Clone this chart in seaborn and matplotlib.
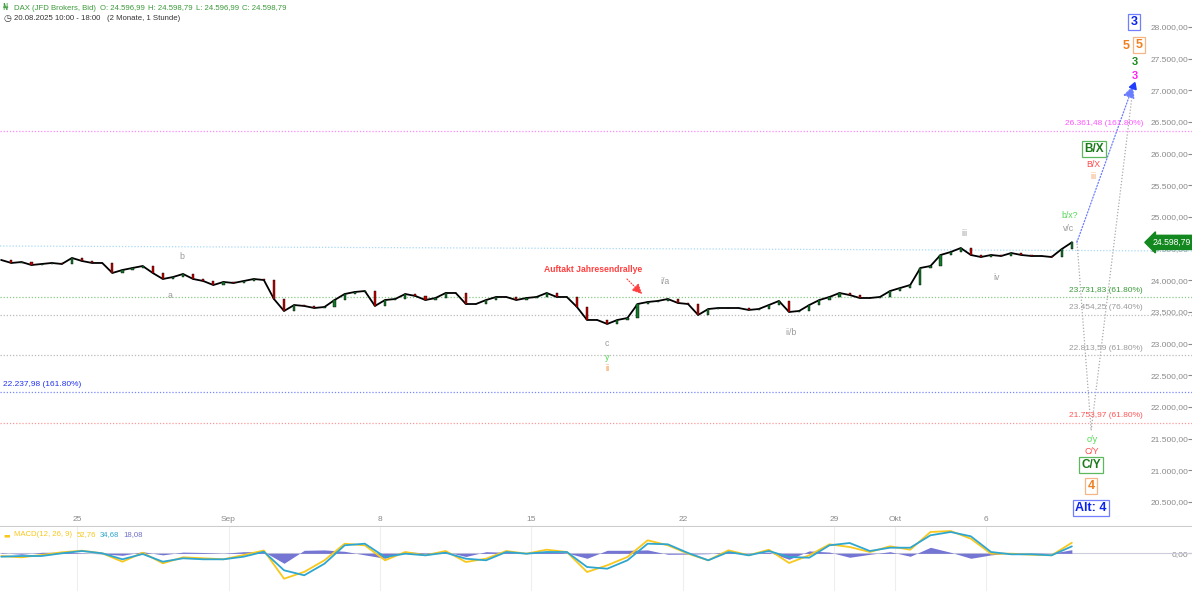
import numpy as np
import pandas as pd
import matplotlib
matplotlib.use("Agg")
import matplotlib.pyplot as plt
import seaborn as sns

# ---------------- data ----------------
close = [24321, 24274, 24289, 24242, 24258, 24274, 24258, 24353, 24305, 24274,
         24274, 24116, 24163, 24195, 24226, 24116, 24021, 24052, 24100, 24021,
         23989, 23926, 23974, 23958, 23989, 24021, 24005, 23705, 23516, 23610,
         23595, 23563, 23579, 23689, 23784, 23816, 23831, 23595, 23689, 23705,
         23784, 23753, 23689, 23721, 23800, 23800, 23626, 23626, 23689, 23737,
         23737, 23689, 23721, 23737, 23800, 23737, 23737, 23579, 23374, 23374,
         23311, 23374, 23405, 23626, 23658, 23674, 23705, 23642, 23626, 23453,
         23547, 23563, 23563, 23563, 23532, 23547, 23610, 23674, 23500, 23516,
         23610, 23689, 23737, 23800, 23768, 23721, 23721, 23737, 23831, 23879,
         23926, 24195, 24226, 24400, 24447, 24510, 24400, 24368, 24400, 24384,
         24431, 24400, 24384, 24384, 24368, 24494, 24598.79]

macd_line = [-13.5, -20, -8.5, 5, 13, 0, -42, 3, -50, -20, -25, -30, -8.5, 14,
             -127, -93, -35, 48, 40, -35, 6.5, -10, 11.5, -43.5, -27, 11.5, -2, 18,
             6.5, -93.5, -60, -18.5, 65, 40, -2, -35, 15, -10, 18, -48.5, -10, 45,
             31.5, 6.5, 35, 18, 106.5, 111.5, 73, -2, -2, -7, -10, 52.76]
signal_line = [-17, -13.5, -13.5, 0, 11.5, 0, -30, -3.5, -42, -25, -30, -30, -17, 8,
               -85, -110, -52, 40, 48, -18.5, -2, -10, 3, -27, -35, 6.5, -2, 6.5,
               6.5, -68.5, -77, -35, 48, 45, 1.5, -35, 6.5, -10, 11.5, -18.5, -22, 40,
               51.5, 11.5, 28, 28, 90, 106.5, 85, 6.5, -5, -5, -10, 34.68]
macd_hist = [3, -5, 5, 5, 2, -3, -10, 8, -8, 6, 4, 0, 8, 8,
             -50, 15, 17, 10, -8, -25, 8, 2, 8, -16, 8, 5, 0, 10,
             2, -25, 15, 15, 17, -5, -4, -2, 8, -2, 6, -30, 12, 6,
             -20, -5, 8, -15, 30, 5, -25, -8, 3, -2, 0, 18.08]

date_ticks = [0, 5, 10, 15, 20, 25, 27, 30]
date_labels = ["25", "Sep", "8", "15", "22", "29", "Okt", "6"]
price_ticks = list(range(20500, 28001, 500))

fib_levels = [26361.48, 23731.83, 23454.25, 22813.59, 22237.98, 21753.97]
fib_pcts = ["161.80%", "61.80%", "76.40%", "61.80%", "161.80%", "61.80%"]
fib_colors = ["#ff55ff", "#3a9a3a", "#9a9a9a", "#9a9a9a", "#2233ee", "#ff5555"]
fib_line_colors = ["#ff88ff", "#88cc88", "#bbbbbb", "#bbbbbb", "#7788ff", "#ff9999"]

trend_dates = [-2.54, 36.8]
trend_prices = [24542, 24463]
proj_blue_dates = [33.0, 34.85]
proj_blue_prices = [24600, 27070]
proj_gray_dates = [33.0, 33.47, 34.85]
proj_gray_prices = [24630, 21630, 27030]
last_price = 24598.79

# ---------------- style ----------------
sns.set_theme(style="white")
plt.rcParams["font.family"] = ["Liberation Sans", "DejaVu Sans"]


def de_fmt(v):
    s = f"{v:,.2f}"
    return s.replace(",", "X").replace(".", ",").replace("X", ".")


fig = plt.figure(figsize=(11.92, 5.91), dpi=100)
ax = fig.add_axes([0, 65 / 591, 1, 526 / 591])
mx = fig.add_axes([0, 0, 1, 64 / 591])

t_price = -2.5 + np.arange(len(close)) / 3.0
t_macd = -2.5 + np.arange(len(macd_line)) * 2.0 / 3.0
df = pd.DataFrame({"t": t_price, "close": close})
df["open"] = [close[0]] + close[:-1]
df["body"] = df["close"] - df["open"]
df["col"] = np.where(df["body"] >= 0, "#127a2a", "#c80000")

XL = (-77 / 30.3, (1192 - 77) / 30.3)

# ---------------- main price panel ----------------
for lvl, lc in zip(fib_levels, fib_line_colors):
    ax.axhline(lvl, color=lc, lw=0.9, ls=(0, (1, 1.5)), zorder=1)
sns.lineplot(x=trend_dates, y=trend_prices, ax=ax, color="#a9d9f5", lw=0.9,
             ls=(0, (1, 1.5)), zorder=1)

sns.lineplot(data=df, x="t", y="close", ax=ax, color="black", lw=1.3, zorder=3)
ax.bar(df["t"], df["body"].where(df["body"].abs() > 5, 5), bottom=df["open"],
       width=0.07, color=df["col"], edgecolor="black", linewidth=0.3, zorder=4)

sns.lineplot(x=proj_gray_dates, y=proj_gray_prices, ax=ax, color="#aaaaaa", lw=0.9,
             ls=(0, (1, 1.5)), zorder=2)
ax.annotate("", xy=(proj_blue_dates[1], proj_blue_prices[1]),
            xytext=(proj_blue_dates[0], proj_blue_prices[0]),
            arrowprops=dict(arrowstyle="-|>,head_length=0.6,head_width=0.3",
                            color="#6b7dff", lw=0.9, ls=(0, (1, 1.5)),
                            shrinkA=0, shrinkB=0), zorder=2)
ax.plot([proj_blue_dates[1]], [proj_blue_prices[1]], marker=(3, 0, -20),
        ms=6, color="#1f3cff", zorder=3)

ax.set_xlim(*XL)
ax.set_ylim(28426.3 - 15.79 * 526, 28426.3)
for s in ax.spines.values():
    s.set_visible(False)
ax.spines["bottom"].set_visible(True)
ax.spines["bottom"].set_color("#cccccc")
ax.spines["bottom"].set_linewidth(0.8)

ax.yaxis.tick_right()
ax.set_yticks(price_ticks)
ax.set_yticklabels([de_fmt(v) for v in price_ticks])
ax.tick_params(axis="y", direction="in", length=3, width=0.8, pad=-2.5,
               labelsize=6, colors="#8a8a8a", labelcolor="#8a8a8a")
for lab in ax.get_yticklabels():
    lab.set_horizontalalignment("right")
ax.set_xticks(date_ticks)
ax.set_xticklabels(date_labels)
ax.tick_params(axis="x", direction="in", length=0, pad=-7, labelsize=6,
               labelcolor="#8a8a8a")
ax.set_xlabel("")
ax.set_ylabel("")
ax.grid(False)

# fib labels
for lvl, pct, c in zip(fib_levels, fib_pcts, fib_colors):
    txt = f"{de_fmt(lvl)} ({pct})"
    if abs(lvl - 22237.98) < 1:
        ax.annotate(txt, xy=(XL[0] + 0.1, lvl), xytext=(0, 2.5),
                    textcoords="offset points", ha="left", va="bottom",
                    fontsize=6, color=c)
    else:
        ax.annotate(txt, xy=(35.18, lvl), xytext=(0, 2.5),
                    textcoords="offset points", ha="right", va="bottom",
                    fontsize=6, color=c)

gray = "#9a9a9a"
orange = "#f07f1f"
lgreen = "#55d855"
small = [("b", 3.47, 24384, gray), ("a", 3.07, 23753, gray),
         ("c", 17.49, 22995, gray), ("y", 17.49, 22789, lgreen),
         ("ii", 17.49, 22600, orange), ("i/a", 19.41, 23989, gray),
         ("ii/b", 23.56, 23184, gray), ("iii", 29.27, 24747, gray),
         ("iv", 30.36, 24037, gray), ("v/c", 32.74, 24826, gray),
         ("b/x?", 32.77, 25031, lgreen), ("B/X", 33.53, 25821, "#ff4a4a"),
         ("iii", 33.56, 25647, "#f5a060"), ("c/y", 33.5, 21479, lgreen),
         ("C/Y", 33.5, 21305, "#ff4a4a")]
for s, x, y, c in small:
    ax.text(x, y, s, fontsize=6.3, color=c, ha="center", va="center")

ax.text(17.03, 24163, "Auftakt Jahresendrallye", fontsize=6.2, color="#ff4040",
        fontweight="bold", ha="center", va="center")
ax.annotate("", xy=(18.65, 23784), xytext=(18.15, 24021),
            arrowprops=dict(arrowstyle="-|>,head_length=0.5,head_width=0.25",
                            color="#ff4040", lw=0.8, ls=(0, (1, 1.5)),
                            shrinkA=0, shrinkB=0))


def boxed(s, x, y, tc, ec, fs=8.5):
    ax.text(x, y, s, fontsize=fs, color=tc, fontweight="bold", ha="center",
            va="center", bbox=dict(boxstyle="square,pad=0.18", fc="white",
                                   ec=ec, lw=0.9))


boxed("B/X", 33.56, 26074, "#1a7a1a", "#5cb85c")
boxed("3", 34.88, 28079, "#0a22ee", "#6f7fff", 9)
boxed("5", 35.05, 27716, orange, "#f5b585", 9)
ax.text(34.62, 27700, "5", fontsize=9, color=orange, fontweight="bold",
        ha="center", va="center")
ax.text(34.92, 27447, "3", fontsize=8, color="#1a8a1a", fontweight="bold",
        ha="center", va="center")
ax.text(34.92, 27226, "3", fontsize=8, color="#ff22ee", fontweight="bold",
        ha="center", va="center")
boxed("C/Y", 33.47, 21084, "#1a7a1a", "#5cb85c")
boxed("4", 33.47, 20752, orange, "#f5b585", 9)
boxed("Alt: 4", 33.47, 20405, "#0a22ee", "#6f7fff", 9)

ax.text(35.5, last_price, de_fmt(last_price), fontsize=6.2, color="white",
        ha="left", va="center",
        bbox=dict(boxstyle="larrow,pad=0.3", fc="#13881f", ec="#13881f"))

# ---------------- MACD panel ----------------
mx.fill_between(t_macd, 0, macd_hist, color="#6666d0", alpha=0.9, lw=0, zorder=2)
mx.axhline(0, color="#ccccdd", lw=0.8, zorder=1)
sns.lineplot(x=t_macd, y=macd_line, ax=mx, color="#f8c81c", lw=1.3, zorder=3)
sns.lineplot(x=t_macd, y=signal_line, ax=mx, color="#2fa6d0", lw=1.3, zorder=4)
mx.set_xlim(*XL)
mx.set_ylim((553.3 - 591) * 5, (553.3 - 527) * 5)
for s in mx.spines.values():
    s.set_visible(False)
mx.set_xticks(date_ticks)
mx.set_xticklabels([])
mx.tick_params(axis="x", direction="in", length=3, width=0.8, colors="#666666")
mx.grid(True, axis="x", color="#eeeeee", lw=0.8)
mx.yaxis.tick_right()
mx.set_yticks([0])
mx.set_yticklabels(["0,00"])
mx.tick_params(axis="y", direction="in", length=3, width=0.8, pad=-2.5,
               labelsize=6, colors="#8a8a8a")
for lab in mx.get_yticklabels():
    lab.set_horizontalalignment("right")
mx.set_xlabel("")
mx.set_ylabel("")

# legend row of MACD
ly = 1 - 535 / 591
fs_h = 5.6
fig.text(3 / 1192, ly, "▬", fontsize=5, color="#f8c81c", va="center",
         family=["DejaVu Sans"])
fig.text(14 / 1192, ly, "MACD(12, 26, 9)", fontsize=fs_h, color="#f8c81c", va="center")
fig.text(77 / 1192, ly, "52,76", fontsize=fs_h, color="#f8c81c", va="center")
fig.text(100 / 1192, ly, "34,68", fontsize=fs_h, color="#2fa6d0", va="center")
fig.text(123 / 1192, ly, "18,08", fontsize=fs_h, color="#7070cc", va="center")

# header
hy1 = 1 - 8 / 591
hy2 = 1 - 18 / 591
hgreen = "#3a9a3a"
fig.text(3 / 1192, hy1, "₦", fontsize=6, color=hgreen, va="center",
         family=["DejaVu Sans"])
for txt, px in [("DAX (JFD Brokers, Bid)", 14), ("O: 24.596,99", 100),
                ("H: 24.598,79", 148), ("L: 24.596,99", 196),
                ("C: 24.598,79", 242)]:
    fig.text(px / 1192, hy1, txt, fontsize=fs_h, color=hgreen, va="center")
fig.text(3 / 1192, hy2, "◷", fontsize=6.5, color="#333333", va="center",
         family=["DejaVu Sans"])
fig.text(14 / 1192, hy2, "20.08.2025 10:00 - 18:00", fontsize=fs_h,
         color="#333333", va="center")
fig.text(107 / 1192, hy2, "(2 Monate, 1 Stunde)", fontsize=fs_h,
         color="#333333", va="center")

fig.savefig("out.png", dpi=100)
